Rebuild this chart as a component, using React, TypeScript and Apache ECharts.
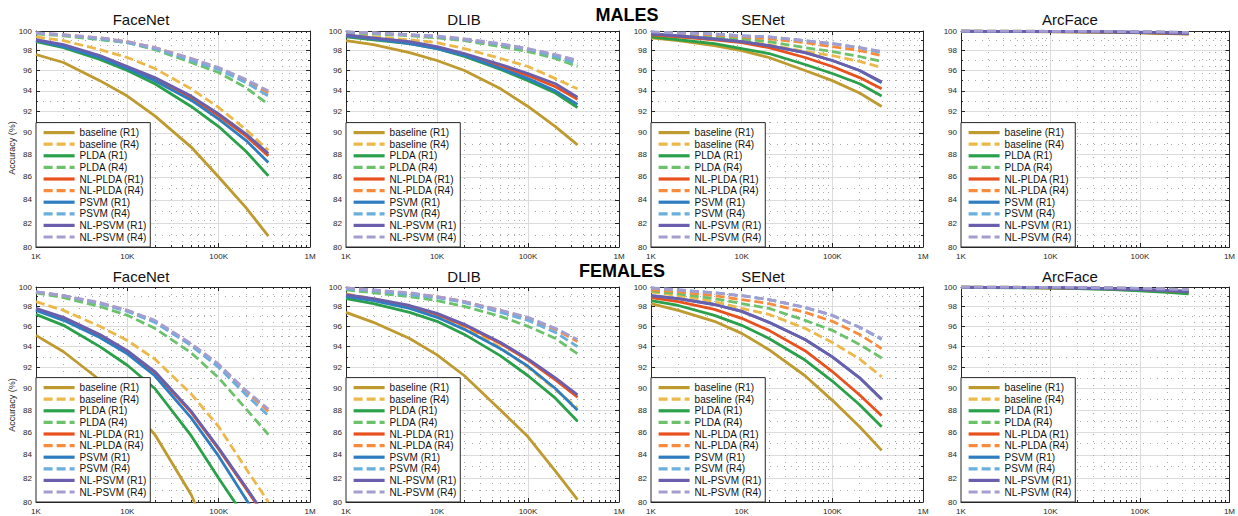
import React, { useEffect, useRef } from 'react';
import * as echarts from 'echarts';

// ---------- data ----------
const xPoints = [1000, 2000, 5000, 10000, 20000, 50000, 100000, 200000, 350000];

const seriesNames = [
  'baseline (R1)', 'baseline (R4)', 'PLDA (R1)', 'PLDA (R4)', 'NL-PLDA (R1)',
  'NL-PLDA (R4)', 'PSVM (R1)', 'PSVM (R4)', 'NL-PSVM (R1)', 'NL-PSVM (R4)',
];
const seriesColors = [
  '#BF9A2F', '#EDB84A', '#2AA04A', '#6CC26B', '#E8511E',
  '#F98B3D', '#2F7DC1', '#6AAFDD', '#6B5FAD', '#A49DD1',
];
const seriesDashed = [false, true, false, true, false, true, false, true, false, true];

const panelTitles = ['FaceNet', 'DLIB', 'SENet', 'ArcFace'];
const rowTitles = ['MALES', 'FEMALES'];

const yMajorTicks = [80, 82, 84, 86, 88, 90, 92, 94, 96, 98, 100];
const yMinorTicks = [81, 83, 85, 87, 89, 91, 93, 95, 97, 99];
const xMajorTicks = [1000, 10000, 100000, 1000000];
const xMajorLabels = ['1K', '10K', '100K', '1M'];
const xMinorTicks = [
  2000, 3000, 4000, 5000, 6000, 7000, 8000, 9000,
  20000, 30000, 40000, 50000, 60000, 70000, 80000, 90000,
  200000, 300000, 400000, 500000, 600000, 700000, 800000, 900000,
];

// each panel: rows in legend order, values at xPoints (accuracy %)
const malesFaceNet = [
  [97.6, 96.8, 95.0, 93.5, 91.6, 88.7, 86.0, 83.3, 80.9],
  [99.4, 99.0, 98.1, 97.3, 96.2, 94.2, 92.4, 90.3, 88.4],
  [98.9, 98.3, 97.1, 96.0, 94.7, 92.5, 90.6, 88.3, 86.1],
  [99.7, 99.5, 99.1, 98.8, 98.1, 96.8, 95.8, 94.3, 92.7],
  [99.0, 98.5, 97.4, 96.3, 95.2, 93.3, 91.6, 89.7, 87.9],
  [99.8, 99.6, 99.3, 98.9, 98.3, 97.2, 96.2, 95.0, 93.8],
  [99.0, 98.4, 97.3, 96.2, 95.0, 93.1, 91.3, 89.3, 87.3],
  [99.8, 99.6, 99.2, 98.8, 98.2, 97.0, 96.1, 94.8, 93.5],
  [99.1, 98.6, 97.5, 96.4, 95.3, 93.5, 91.8, 89.9, 88.1],
  [99.8, 99.6, 99.3, 98.9, 98.3, 97.2, 96.3, 95.1, 94.0],
];
const malesDLIB = [
  [99.0, 98.6, 97.8, 97.0, 96.0, 94.2, 92.5, 90.6, 88.9],
  [99.6, 99.4, 99.1, 98.8, 98.2, 97.2, 96.4, 95.2, 94.2],
  [99.4, 99.1, 98.7, 98.2, 97.4, 96.1, 95.0, 93.8, 92.4],
  [99.8, 99.7, 99.5, 99.3, 99.0, 98.4, 97.9, 97.2, 96.4],
  [99.5, 99.2, 98.8, 98.3, 97.6, 96.4, 95.5, 94.4, 93.2],
  [99.9, 99.8, 99.6, 99.4, 99.1, 98.6, 98.1, 97.5, 96.9],
  [99.5, 99.2, 98.7, 98.2, 97.5, 96.2, 95.2, 94.0, 92.7],
  [99.9, 99.8, 99.6, 99.4, 99.1, 98.6, 98.1, 97.4, 96.7],
  [99.6, 99.3, 98.9, 98.4, 97.7, 96.6, 95.7, 94.7, 93.4],
  [99.9, 99.8, 99.6, 99.5, 99.2, 98.7, 98.2, 97.6, 97.0],
];
const malesSENet = [
  [99.3, 99.0, 98.5, 98.0, 97.3, 96.0, 95.0, 93.8, 92.5],
  [99.6, 99.4, 99.2, 99.0, 98.6, 97.9, 97.5, 96.9, 96.3],
  [99.4, 99.1, 98.7, 98.2, 97.7, 96.6, 95.7, 94.7, 93.5],
  [99.7, 99.6, 99.4, 99.2, 98.9, 98.3, 97.9, 97.4, 96.9],
  [99.6, 99.4, 99.1, 98.8, 98.3, 97.3, 96.4, 95.3, 94.2],
  [99.8, 99.7, 99.6, 99.4, 99.2, 98.8, 98.4, 98.0, 97.5],
  [99.7, 99.5, 99.2, 98.9, 98.5, 97.8, 97.0, 96.0, 94.8],
  [99.9, 99.8, 99.7, 99.5, 99.4, 99.0, 98.7, 98.3, 97.8],
  [99.7, 99.5, 99.2, 98.9, 98.5, 97.8, 97.0, 96.0, 94.9],
  [99.9, 99.8, 99.7, 99.5, 99.4, 99.0, 98.7, 98.3, 97.9],
];
const malesArcFace = [
  [99.97, 99.96, 99.94, 99.92, 99.9, 99.86, 99.8, 99.74, 99.68],
  [99.99, 99.98, 99.97, 99.96, 99.95, 99.92, 99.89, 99.85, 99.8],
  [99.98, 99.97, 99.96, 99.94, 99.92, 99.88, 99.84, 99.78, 99.72],
  [99.99, 99.98, 99.97, 99.96, 99.95, 99.93, 99.9, 99.86, 99.82],
  [99.98, 99.97, 99.96, 99.94, 99.92, 99.88, 99.83, 99.77, 99.7],
  [99.99, 99.99, 99.98, 99.97, 99.96, 99.94, 99.91, 99.87, 99.83],
  [99.98, 99.97, 99.96, 99.95, 99.93, 99.9, 99.86, 99.81, 99.76],
  [99.99, 99.99, 99.98, 99.97, 99.96, 99.94, 99.92, 99.88, 99.84],
  [99.98, 99.97, 99.96, 99.95, 99.93, 99.9, 99.87, 99.82, 99.77],
  [99.99, 99.99, 99.98, 99.97, 99.96, 99.95, 99.92, 99.89, 99.85],
];
const femalesFaceNet = [
  [95.1, 93.5, 90.8, 88.5, 85.8, 80.6, 75.5],
  [98.5, 97.6, 96.0, 94.6, 92.8, 89.5, 86.5, 82.8, 80.0],
  [97.2, 96.1, 94.0, 92.2, 90.0, 85.7, 82.0, 78.6],
  [99.4, 98.9, 98.0, 97.1, 95.8, 93.4, 91.0, 88.1, 85.8],
  [97.7, 96.8, 95.1, 93.5, 91.5, 87.8, 84.5, 81.1, 78.4],
  [99.5, 99.1, 98.3, 97.6, 96.5, 94.2, 92.2, 89.7, 87.9],
  [97.6, 96.6, 94.9, 93.3, 91.2, 87.3, 83.9, 80.2, 77.5],
  [99.5, 99.1, 98.3, 97.5, 96.4, 94.1, 92.0, 89.4, 87.5],
  [97.8, 96.9, 95.2, 93.6, 91.6, 87.9, 84.6, 81.2, 78.5],
  [99.5, 99.1, 98.4, 97.6, 96.6, 94.3, 92.3, 89.8, 88.1],
];
const femalesDLIB = [
  [97.4, 96.4, 94.8, 93.2, 91.2, 88.0, 85.6, 82.6, 80.2],
  [99.3, 98.8, 98.0, 97.1, 96.0, 93.9, 92.0, 89.9, 88.2],
  [98.8, 98.3, 97.4, 96.5, 95.2, 93.1, 91.2, 89.1, 87.0],
  [99.7, 99.4, 99.0, 98.6, 98.0, 97.0, 96.0, 94.8, 93.3],
  [99.1, 98.7, 98.0, 97.2, 96.1, 94.3, 92.7, 90.8, 89.2],
  [99.9, 99.6, 99.3, 99.0, 98.5, 97.6, 96.8, 95.7, 94.5],
  [99.0, 98.6, 97.8, 96.9, 95.7, 93.8, 92.1, 90.0, 88.0],
  [99.8, 99.6, 99.2, 98.9, 98.4, 97.4, 96.6, 95.4, 94.0],
  [99.2, 98.8, 98.1, 97.3, 96.2, 94.4, 92.8, 91.0, 89.4],
  [99.9, 99.7, 99.4, 99.0, 98.5, 97.6, 96.9, 95.8, 94.7],
];
const femalesSENet = [
  [98.3, 97.6, 96.5, 95.3, 93.7, 91.2, 88.9, 86.5, 84.4],
  [99.5, 99.1, 98.5, 97.8, 97.2, 95.8, 94.4, 92.8, 91.1],
  [98.6, 98.1, 97.1, 96.1, 94.8, 92.7, 90.7, 88.5, 86.5],
  [99.6, 99.3, 98.8, 98.3, 97.8, 96.6, 95.6, 94.2, 92.9],
  [98.9, 98.5, 97.7, 96.8, 95.6, 93.6, 91.6, 89.4, 87.5],
  [99.7, 99.5, 99.1, 98.7, 98.3, 97.4, 96.5, 95.2, 93.8],
  [99.1, 98.8, 98.2, 97.5, 96.4, 94.7, 93.0, 91.0, 89.0],
  [99.9, 99.7, 99.4, 99.1, 98.7, 97.9, 97.1, 95.9, 94.7],
  [99.1, 98.8, 98.2, 97.5, 96.4, 94.7, 93.0, 91.0, 89.0],
  [99.9, 99.7, 99.4, 99.1, 98.7, 97.9, 97.1, 95.9, 94.8],
];
const femalesArcFace = [
  [99.98, 99.96, 99.93, 99.9, 99.85, 99.76, 99.66, 99.52, 99.4],
  [99.99, 99.98, 99.97, 99.95, 99.93, 99.88, 99.82, 99.74, 99.65],
  [99.97, 99.95, 99.92, 99.88, 99.83, 99.72, 99.6, 99.45, 99.3],
  [99.99, 99.98, 99.96, 99.94, 99.91, 99.85, 99.78, 99.68, 99.55],
  [99.98, 99.97, 99.95, 99.92, 99.88, 99.8, 99.72, 99.6, 99.5],
  [99.99, 99.98, 99.97, 99.96, 99.94, 99.9, 99.84, 99.76, 99.67],
  [99.98, 99.97, 99.95, 99.93, 99.89, 99.82, 99.74, 99.63, 99.53],
  [99.99, 99.98, 99.97, 99.96, 99.94, 99.9, 99.85, 99.78, 99.7],
  [99.98, 99.97, 99.96, 99.93, 99.9, 99.83, 99.75, 99.65, 99.56],
  [99.99, 99.99, 99.98, 99.96, 99.95, 99.91, 99.86, 99.79, 99.72],
];

const panelData = [
  malesFaceNet, malesDLIB, malesSENet, malesArcFace,
  femalesFaceNet, femalesDLIB, femalesSENet, femalesArcFace,
];

// ---------- layout ----------
const W = 1238;
const H = 516;
const panelLefts = [36, 346, 651, 961];
const panelWidths = [274, 273, 272, 272];
const rowTops = [31, 287];
const rowHeights = [216, 215];
const titleCentersX = [141, 464, 763, 1070];
const titleCentersY = [19, 276];
const rowTitlePos = [[627, 15], [622, 271]];
const yNamePos = [[12, 148], [12, 405]];

const FONT = "'Liberation Sans', Arial, Helvetica, sans-serif";
const INK = '#262626';
const LOG = (v: number) => Math.log10(v);

function buildOption() {
  const grid: any[] = [];
  const xAxis: any[] = [];
  const yAxis: any[] = [];
  const series: any[] = [];
  const legend: any[] = [];
  const graphic: any[] = [];

  const xMin = LOG(xMajorTicks[0]);
  const xMax = LOG(xMajorTicks[xMajorTicks.length - 1]);
  const yMin = LOG(yMajorTicks[0]);
  const yMax = LOG(yMajorTicks[yMajorTicks.length - 1]);
  const xMaj = xMajorTicks.map(LOG);
  const xMin2 = xMinorTicks.map(LOG);
  const yMaj = yMajorTicks.map(LOG);
  const yMin2 = yMinorTicks.map(LOG);

  const xFmt = (v: number) => {
    const i = xMaj.findIndex((t) => Math.abs(t - v) < 1e-6);
    return i >= 0 ? xMajorLabels[i] : '';
  };
  const yFmt = (v: number) => String(Math.round(Math.pow(10, v)));

  for (let r = 0; r < 2; r++) {
    for (let c = 0; c < 4; c++) {
      const g = r * 4 + c;
      const left = panelLefts[c];
      const width = panelWidths[c];
      const top = rowTops[r];
      const height = rowHeights[r];
      grid.push({ left, top, width, height, show: false, containLabel: false });

      const xb = { type: 'value', gridIndex: g, min: xMin, max: xMax };
      const yb = { type: 'value', gridIndex: g, min: yMin, max: yMax };
      const boxLine = { show: true, onZero: false, lineStyle: { color: INK, width: 1 } };
      const noLine = { show: false, onZero: false };

      // x axes: bottom major, bottom minor, top major, top minor
      xAxis.push({
        ...xb, position: 'bottom', axisLine: boxLine,
        axisTick: { show: true, inside: true, length: 4, customValues: xMaj, lineStyle: { color: INK } },
        axisLabel: {
          show: true, customValues: xMaj, formatter: xFmt, fontSize: 8, color: INK,
          fontFamily: FONT, margin: 5, showMinLabel: true, showMaxLabel: true,
        },
        splitLine: { show: true, lineStyle: { color: '#dcdcdc', width: 1 } },
      });
      xAxis.push({
        ...xb, position: 'bottom', axisLine: noLine,
        axisTick: { show: true, inside: true, length: 2, customValues: xMin2, lineStyle: { color: INK } },
        axisLabel: { show: false },
        splitLine: { show: true, lineStyle: { color: '#a8a8a8', width: 1, type: [1, 6] } },
      });
      xAxis.push({
        ...xb, position: 'top', axisLine: boxLine,
        axisTick: { show: true, inside: true, length: 4, customValues: xMaj, lineStyle: { color: INK } },
        axisLabel: { show: false }, splitLine: { show: false },
      });
      xAxis.push({
        ...xb, position: 'top', axisLine: noLine,
        axisTick: { show: true, inside: true, length: 2, customValues: xMin2, lineStyle: { color: INK } },
        axisLabel: { show: false }, splitLine: { show: false },
      });

      // y axes: left major, left minor, right major, right minor
      yAxis.push({
        ...yb, position: 'left', axisLine: boxLine,
        axisTick: { show: true, inside: true, length: 4, customValues: yMaj, lineStyle: { color: INK } },
        axisLabel: {
          show: true, customValues: yMaj, formatter: yFmt, fontSize: 8, color: INK,
          fontFamily: FONT, margin: 4, showMinLabel: true, showMaxLabel: true,
        },
        splitLine: { show: true, lineStyle: { color: '#dcdcdc', width: 1 } },
      });
      yAxis.push({
        ...yb, position: 'left', axisLine: noLine,
        axisTick: { show: true, inside: true, length: 2, customValues: yMin2, lineStyle: { color: INK } },
        axisLabel: { show: false },
        splitLine: { show: true, lineStyle: { color: '#a8a8a8', width: 1, type: [1, 6] } },
      });
      yAxis.push({
        ...yb, position: 'right', axisLine: boxLine,
        axisTick: { show: true, inside: true, length: 4, customValues: yMaj, lineStyle: { color: INK } },
        axisLabel: { show: false }, splitLine: { show: false },
      });
      yAxis.push({
        ...yb, position: 'right', axisLine: noLine,
        axisTick: { show: true, inside: true, length: 2, customValues: yMin2, lineStyle: { color: INK } },
        axisLabel: { show: false }, splitLine: { show: false },
      });

      const rows = panelData[g];
      rows.forEach((vals, si) => {
        const data = vals.map((v, i) => [LOG(xPoints[i]), LOG(v)]);
        series.push({
          type: 'line',
          name: seriesNames[si],
          xAxisIndex: g * 4,
          yAxisIndex: g * 4,
          data,
          symbol: 'none',
          showSymbol: false,
          silent: true,
          clip: true,
          z: 3,
          lineStyle: {
            color: seriesColors[si],
            width: 2.8,
            type: seriesDashed[si] ? [9, 4] : 'solid',
          },
          itemStyle: { color: seriesColors[si] },
        });
      });

      legend.push({
        orient: 'vertical',
        left,
        bottom: H - (top + height),
        data: seriesNames,
        itemWidth: 31,
        itemHeight: 10,
        itemGap: 1.6,
        padding: [5, 4, 5, 6],
        backgroundColor: '#ffffff',
        borderColor: INK,
        borderWidth: 1,
        borderRadius: 0,
        selectedMode: false,
        z: 10,
        itemStyle: { opacity: 0, borderWidth: 0 },
        lineStyle: { width: 3.2 },
        textStyle: { fontSize: 10, color: '#111', fontFamily: FONT, lineHeight: 10 },
      });

      graphic.push({
        type: 'text',
        x: titleCentersX[c],
        y: titleCentersY[r],
        style: {
          text: panelTitles[c], font: `15px ${FONT}`, fill: '#111',
          textAlign: 'center', textVerticalAlign: 'middle', align: 'center', verticalAlign: 'middle',
        },
      });
    }
    graphic.push({
      type: 'text',
      x: rowTitlePos[r][0],
      y: rowTitlePos[r][1],
      z: 20,
      style: {
        text: rowTitles[r], font: `bold 18px ${FONT}`, fill: '#000',
        textAlign: 'center', textVerticalAlign: 'middle', align: 'center', verticalAlign: 'middle',
      },
    });
    graphic.push({
      type: 'text',
      x: yNamePos[r][0],
      y: yNamePos[r][1],
      rotation: Math.PI / 2,
      style: {
        text: 'Accuracy (%)', font: `9px ${FONT}`, fill: INK,
        textAlign: 'center', textVerticalAlign: 'middle', align: 'center', verticalAlign: 'middle',
      },
    });
  }

  return {
    animation: false,
    backgroundColor: '#ffffff',
    grid, xAxis, yAxis, series, legend, graphic,
  };
}

export default function App() {
  const ref = useRef<HTMLDivElement>(null);
  useEffect(() => {
    if (!ref.current) return;
    const chart = echarts.init(ref.current, null, { renderer: 'svg' });
    chart.setOption(buildOption() as any);
    return () => chart.dispose();
  }, []);
  return (
    <div
      ref={ref}
      style={{ position: 'absolute', left: 0, top: 0, width: W, height: H, background: '#fff' }}
    />
  );
}
